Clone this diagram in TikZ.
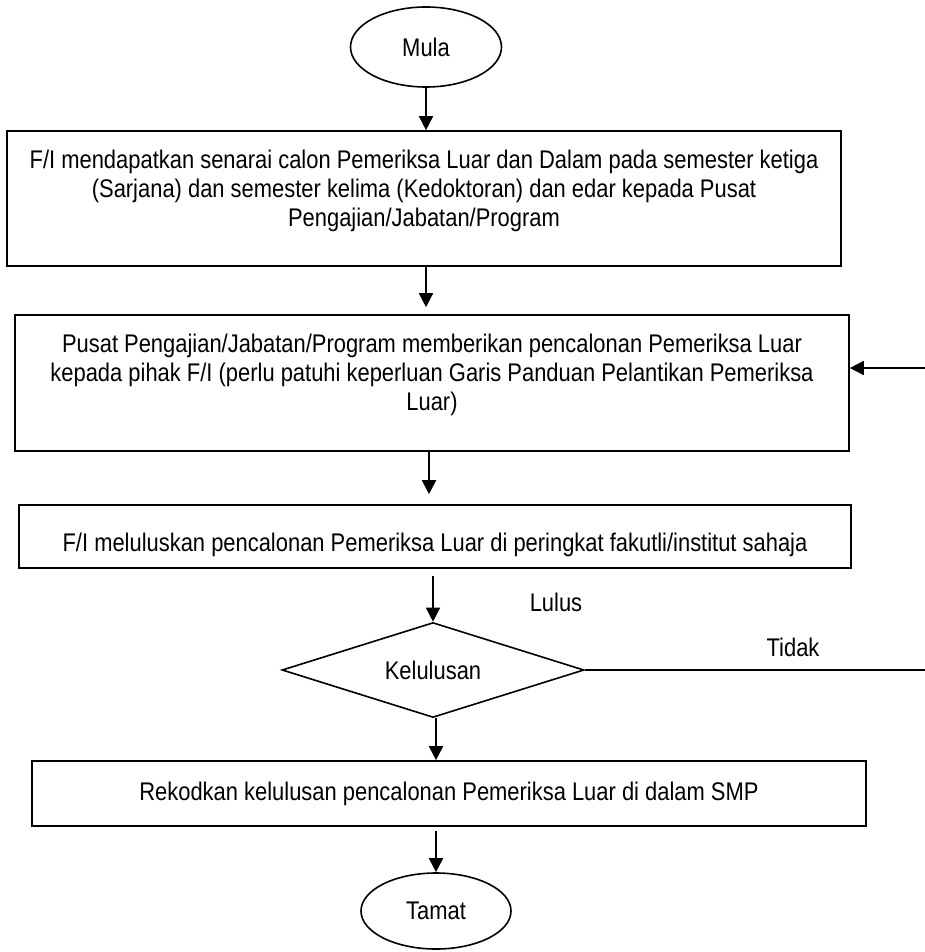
\documentclass[tikz,border=0pt]{standalone}
\usepackage{fontspec}
\setmainfont{Liberation Sans}[FakeStretch=0.86]
\usetikzlibrary{shapes.geometric,arrows.meta}
\begin{document}
\begin{tikzpicture}[x=1pt,y=-1pt,
  every node/.style={font=\fontsize{25.5}{29}\selectfont},
  procbox/.style={draw, line width=1.6pt, rectangle, inner sep=0pt},
  term/.style={draw, line width=1.6pt, ellipse, inner sep=0pt, minimum width=151pt, minimum height=80pt},
  decide/.style={draw, line width=1.6pt, diamond, aspect=3.18, inner sep=0pt, minimum width=302pt, minimum height=95pt},
  txt/.style={inner sep=0pt, align=center},
  arr/.style={line width=1.6pt, -{Triangle[length=14pt,width=14pt]}},
  plain/.style={line width=1.6pt}]
\useasboundingbox (0,0) rectangle (925,952);

\node[term] (mula) at (426,47) {Mula};
\node[procbox, minimum width=834pt, minimum height=135pt] (b1) at (424,198.5) {};
\node[txt, anchor=north] (t1) at (424,149.5) {F/I mendapatkan senarai calon Pemeriksa Luar dan Dalam pada semester ketiga\\(Sarjana) dan semester kelima (Kedoktoran) dan edar kepada Pusat\\Pengajian/Jabatan/Program};

\node[procbox, minimum width=834pt, minimum height=136pt] (b2) at (432,383) {};
\node[txt, anchor=north] (t2) at (432,333.5) {Pusat Pengajian/Jabatan/Program memberikan pencalonan Pemeriksa Luar\\kepada pihak F/I (perlu patuhi keperluan Garis Panduan Pelantikan Pemeriksa\\Luar)};

\node[procbox, minimum width=832pt, minimum height=63pt] (b3) at (435,536.5) {};
\node[txt, anchor=base] (t3) at (435,551) {F/I meluluskan pencalonan Pemeriksa Luar di peringkat fakutli/institut sahaja};

\node[decide] (dia) at (433,670) {Kelulusan};
\node[txt] (lulus) at (556,602) {Lulus};
\node[txt] (tidak) at (793,647) {Tidak};

\node[procbox, minimum width=834pt, minimum height=65pt] (b4) at (449,793.5) {};
\node[txt, anchor=base] (t4) at (449,800) {Rekodkan kelulusan pencalonan Pemeriksa Luar di dalam SMP};

\node[term, minimum width=150pt, minimum height=76pt] (tamat) at (436,911) {Tamat};

\coordinate (r1) at (925,368);
\coordinate (r2) at (925,670);

\draw[arr] (mula.south) -- (mula.south |- b1.north);
\draw[arr] ([xshift=2pt]b1.south) -- ([xshift=2pt,yshift=7pt]b1.south |- b2.north);
\draw[arr] ([xshift=-3pt]b2.south) -- ([xshift=-3pt,yshift=10pt]b2.south |- b3.north);
\draw[arr] ([yshift=-7pt]dia.north |- b3.south) -- (dia.north);
\draw[arr] ([xshift=3pt]dia.south) -- ([xshift=3pt]dia.south |- b4.north);
\draw[arr] ([yshift=-4pt]tamat.north |- b4.south) -- (tamat.north);
\draw[arr] (r1) -- (r1 -| b2.east);
\draw[plain] (dia.east) -- (r2);
\end{tikzpicture}
\end{document}
